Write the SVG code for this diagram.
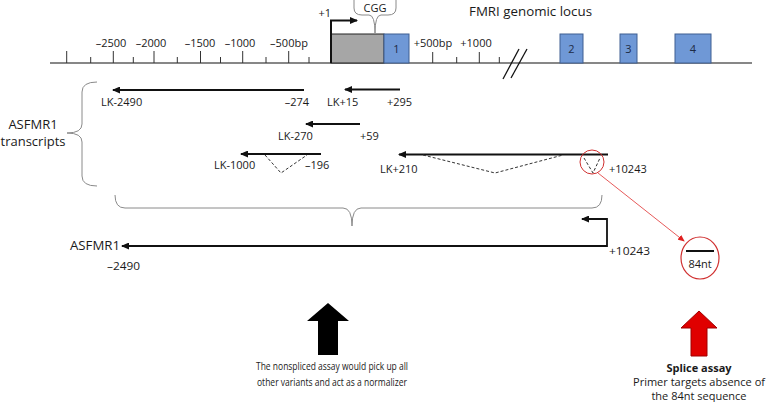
<svg xmlns="http://www.w3.org/2000/svg" width="770" height="402" viewBox="0 0 770 402">
<defs>
<style>
text{font-family:"Open Sans","Noto Sans","Liberation Sans",sans-serif;fill:#1a1a1a}
.t11{font-size:11px}
.t12{font-size:12px}
.t13{font-size:13px}
.ax{stroke:#111;stroke-width:1.2;fill:none}
.tk{stroke:#333;stroke-width:1}
.exon{fill:#6f98d6;stroke:#3f5f92;stroke-width:1}
.tr{stroke:#111;stroke-width:2;fill:none}
.dash{stroke:#333;stroke-width:1;stroke-dasharray:3,2;fill:none}
.brace{stroke:#8a8a8a;stroke-width:1;fill:none}
.mid{text-anchor:middle}
.end{text-anchor:end}
</style>
<marker id="ah" markerUnits="userSpaceOnUse" markerWidth="8" markerHeight="7" refX="7" refY="3.5" orient="auto-start-reverse">
<path d="M0,0 L8,3.5 L0,7 z" fill="#111"/>
</marker>
<marker id="ahr" markerUnits="userSpaceOnUse" markerWidth="7" markerHeight="6" refX="6" refY="3" orient="auto">
<path d="M0,0 L7,3 L0,6 z" fill="#e02020"/>
</marker>
</defs>

<g id="locus">
<line class="ax" x1="50" y1="63" x2="752" y2="63"/>
<g class="tk">
<line x1="66.7" y1="51" x2="66.7" y2="63"/>
<line x1="90.7" y1="57" x2="90.7" y2="63"/>
<line x1="113.3" y1="51" x2="113.3" y2="63"/>
<line x1="133.3" y1="57" x2="133.3" y2="63"/>
<line x1="154" y1="51" x2="154" y2="63"/>
<line x1="177.3" y1="57" x2="177.3" y2="63"/>
<line x1="200.5" y1="51" x2="200.5" y2="63"/>
<line x1="220.5" y1="57" x2="220.5" y2="63"/>
<line x1="242.7" y1="51" x2="242.7" y2="63"/>
<line x1="266" y1="57" x2="266" y2="63"/>
<line x1="288.7" y1="51" x2="288.7" y2="63"/>
<line x1="309" y1="57" x2="309" y2="63"/>
<line x1="432.7" y1="52" x2="432.7" y2="63"/>
<line x1="456.7" y1="57" x2="456.7" y2="63"/>
<line x1="479.3" y1="52" x2="479.3" y2="63"/>
<line x1="499.3" y1="57" x2="499.3" y2="63"/>
</g>
<g class="t11 mid">
<text x="111" y="47">–2500</text>
<text x="151" y="47">–2000</text>
<text x="200" y="47">–1500</text>
<text x="240" y="47">–1000</text>
<text x="289" y="47">–500bp</text>
<text x="433" y="47">+500bp</text>
<text x="476" y="47">+1000</text>
</g>
<line x1="503" y1="79" x2="519" y2="49" stroke="#111" stroke-width="1.3"/>
<line x1="511" y1="78" x2="527" y2="49" stroke="#111" stroke-width="1.3"/>
<text class="t13" x="469" y="16" textLength="123" lengthAdjust="spacingAndGlyphs">FMRI genomic locus</text>
</g>

<g id="cgg">
<rect x="331" y="34" width="53" height="29" fill="#a6a6a6" stroke="#222" stroke-width="1"/>
<path class="brace" d="M354,0 L354,8 Q354,15 362,15 L369,15 Q375,15 375,33 Q375,15 381,15 L388,15 Q396,15 396,8 L396,0"/>
<text class="t11 mid" x="375" y="12">CGG</text>
</g>

<g id="tss">
<text class="t11 end" x="331" y="17">+1</text>
</g>

<g id="exon1"><rect class="exon" x="384" y="34" width="25" height="29"/><text class="t11 mid" x="396.5" y="53" style="fill:#1d2b45">1</text></g>
<g id="exon2"><rect class="exon" x="560" y="34" width="23" height="29"/><text class="t11 mid" x="571.5" y="53" style="fill:#1d2b45">2</text></g>
<g id="exon3"><rect class="exon" x="620" y="34" width="17" height="29"/><text class="t11 mid" x="628.5" y="53" style="fill:#1d2b45">3</text></g>
<g id="exon4"><rect class="exon" x="675" y="34" width="36" height="29"/><text class="t11 mid" x="693" y="53" style="fill:#1d2b45">4</text></g>

<g id="transcripts-label">
<path class="brace" d="M97,82 Q82,82 82,92 L82,124 Q82,133 67,133 Q82,133 82,142 L82,176 Q82,186 97,186"/>
<text class="t13 mid" x="33" y="129">ASFMR1</text>
<text class="t13 mid" x="33" y="146">transcripts</text>
</g>

<g id="lk-2490">
<text class="t11" x="101" y="106">LK-2490</text>
<text class="t11 end" x="309" y="106">–274</text>
</g>
<g id="lk+15">
<text class="t11" x="327" y="106">LK+15</text>
<text class="t11" x="387" y="106">+295</text>
</g>
<g id="lk-270">
<text class="t11" x="278" y="140">LK-270</text>
<text class="t11" x="360" y="140">+59</text>
</g>
<g id="lk-1000">
<text class="t11" x="214" y="169">LK-1000</text>
<text class="t11" x="305" y="169">–196</text>
</g>
<g id="lk+210">
<text class="t11" x="380" y="173">LK+210</text>
<text class="t11" x="609" y="173">+10243</text>
</g>

<g id="summary-brace">
<path class="brace" d="M115,195 Q115,208 125,208 L343,208 Q352,208 352,226 Q352,208 361,208 L592,208 Q602,208 602,195"/>
</g>

<g id="asfmr1">
<text class="t12 end" x="120" y="250" textLength="50" lengthAdjust="spacingAndGlyphs">ASFMR1</text>
<text class="t11" x="609" y="255" textLength="41" lengthAdjust="spacingAndGlyphs">+10243</text>
<text class="t11" x="107" y="270" textLength="33" lengthAdjust="spacingAndGlyphs">–2490</text>
</g>

<g id="splice-junction">
<ellipse cx="700" cy="258" rx="19" ry="21" fill="none" stroke="#d03030" stroke-width="1.2"/>
<line x1="686" y1="251" x2="714" y2="251" stroke="#111" stroke-width="2"/>
<text class="t11 mid" x="700" y="268">84nt</text>
</g>

<g id="nonspliced-assay">
<path d="M328,303 L349,321 L338,321 L338,355 L318,355 L318,321 L307,321 z" fill="#000"/>
<text class="t11" x="256" y="370" textLength="152" lengthAdjust="spacingAndGlyphs">The nonspliced assay would pick up all</text>
<text class="t11" x="257" y="386" textLength="150" lengthAdjust="spacingAndGlyphs">other variants and act as a normalizer</text>
</g>

<g id="splice-assay">
<path d="M699,311 L717,328 L707,328 L707,356 L691,356 L691,328 L681,328 z" fill="#e00000" stroke="#a00000" stroke-width="1"/>
<text class="t11 mid" x="699" y="372" style="font-weight:bold">Splice assay</text>
<text class="t11 mid" x="699" y="386">Primer targets absence of</text>
<text class="t11 mid" x="699" y="400">the 84nt sequence</text>
</g>

<g id="connectors">
<path class="tr" d="M331,63 L331,20.5 L357,20.5" marker-end="url(#ah)"/>
<line class="tr" x1="304" y1="90" x2="113" y2="90" marker-end="url(#ah)"/>
<line class="tr" x1="400" y1="89.5" x2="345" y2="89.5" marker-end="url(#ah)"/>
<line class="tr" x1="360" y1="124" x2="306" y2="124" marker-end="url(#ah)"/>
<line class="tr" x1="321" y1="154" x2="241" y2="154" marker-end="url(#ah)"/>
<path class="dash" d="M265,155 L281,173 L307,155"/>
<line class="tr" x1="608" y1="154.5" x2="399" y2="154.5" marker-end="url(#ah)"/>
<path class="dash" d="M423,155 L495,173 L563,155"/>
<path class="dash" d="M584,158 L593,173 L600,158"/>
<circle cx="592" cy="162" r="12" fill="none" stroke="#d03030" stroke-width="1"/>
<line x1="598" y1="173" x2="684" y2="241" stroke="#e03030" stroke-width="0.8" marker-end="url(#ahr)"/>
<path class="tr" d="M582,219 L607,219 L607,246 L122,246" marker-start="url(#ah)" marker-end="url(#ah)" style="stroke-width:1.8"/>
</g>
</svg>
